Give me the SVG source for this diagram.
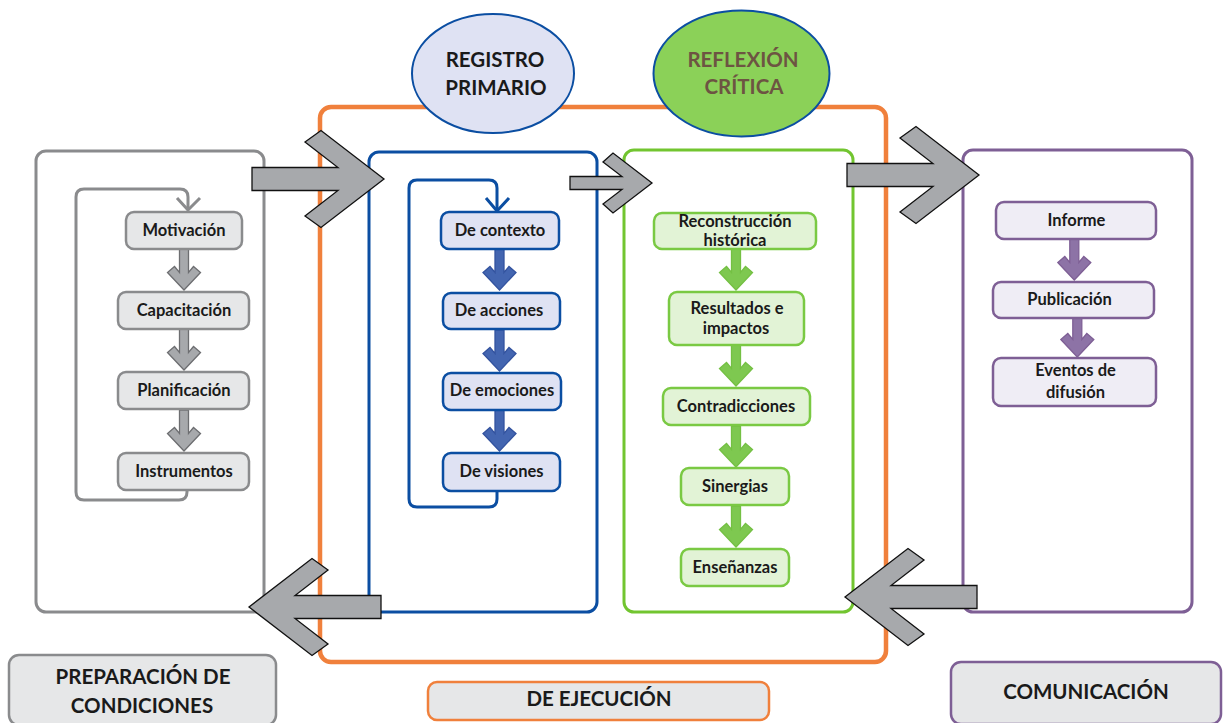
<svg xmlns="http://www.w3.org/2000/svg" width="1223" height="723" viewBox="0 0 1223 723">
<defs>
<style>
.t{font-family:Lato,"Open Sans","Liberation Sans",sans-serif;font-weight:700;font-size:16.5px;fill:#1a1a1a;text-anchor:middle}
.big{font-size:20.5px}
.panel{fill:none;stroke-width:3}
.gbox{fill:#e6e7e8;stroke:#8a8b8d;stroke-width:2.5}
.bbox{fill:#dfe2f3;stroke:#0b4ea2;stroke-width:2.5}
.grbox{fill:#e2f3d6;stroke:#7ac943;stroke-width:2.5}
.pbox{fill:#efedf5;stroke:#7e5f95;stroke-width:2.5}
.bigarrow{fill:#a7a9ac;stroke:#111;stroke-width:1.3;stroke-linejoin:miter}
.loop{fill:none;stroke-width:3;stroke-linejoin:round}
</style>
<path id="sa" d="M -4.5,-41 H 4.5 V -17.5 L 9.5,-23.5 L 16.5,-17.5 L 0,0 L -16.5,-17.5 L -9.5,-23.5 L -4.5,-17.5 Z"/>
<path id="ba" d="M -132,-11.5 H -46 L -79,-37 L -63,-48.5 L 0,0 L -63,48.5 L -79,37 L -46,11.5 H -132 Z"/>
</defs>
<rect width="1223" height="723" fill="#fff"/>

<g id="fase-ejecucion">
<rect x="320" y="107" width="566" height="555" rx="11" fill="none" stroke="#f0803c" stroke-width="4.5"/>
</g>
<g id="panel-preparacion"><rect class="panel" x="36" y="151" width="228" height="461" rx="10" stroke="#8a8b8d"/></g>
<g id="panel-registro"><rect class="panel" x="369" y="152" width="228" height="460" rx="10" stroke="#0b4ea2"/></g>
<g id="panel-reflexion"><rect class="panel" x="624" y="150" width="229" height="462" rx="10" stroke="#72c530"/></g>
<g id="panel-comunicacion"><rect class="panel" x="963" y="150" width="229" height="462" rx="10" stroke="#7e5f95"/></g>

<g id="connectors">
<path class="loop" stroke="#8a8b8d" d="M 187,490 V 492 Q 187,500 179,500 H 84 Q 76,500 76,492 V 197 Q 76,189 84,189 H 180 Q 188,189 188,197 V 210"/>
<path class="loop" stroke="#8a8b8d" d="M 177,198 L 188,210 L 200,198"/>
<path class="loop" stroke="#0b4ea2" d="M 497,491 V 499 Q 497,507 489,507 H 417 Q 409,507 409,499 V 188 Q 409,180 417,180 H 489 Q 497,180 497,188 V 210"/>
<path class="loop" stroke="#0b4ea2" d="M 486,198 L 497,211 L 509,198"/>
<g fill="#a7a9ac" stroke="#6d6e71" stroke-width="1.3">
<use href="#sa" transform="translate(184,290)"/>
<use href="#sa" transform="translate(184,370)"/>
<use href="#sa" transform="translate(184,451)"/>
</g>
<g fill="#4365b0" stroke="#33539f" stroke-width="1.3">
<use href="#sa" transform="translate(499.5,290)"/>
<use href="#sa" transform="translate(499.5,371)"/>
<use href="#sa" transform="translate(499.5,451)"/>
</g>
<g fill="#7ec850" stroke="#74c043" stroke-width="1.3">
<use href="#sa" transform="translate(736,290)"/>
<use href="#sa" transform="translate(736,386)"/>
<use href="#sa" transform="translate(736,467)"/>
<use href="#sa" transform="translate(736,547)"/>
</g>
<g fill="#8d73a6" stroke="#7e5f95" stroke-width="1.3">
<use href="#sa" transform="translate(1074.3,280)"/>
<use href="#sa" transform="translate(1077.3,357)"/>
</g>
</g>

<g id="n-motivacion"><rect class="gbox" x="126" y="212" width="116" height="37" rx="8"/><text class="t" x="184" y="236">Motivación</text></g>
<g id="n-capacitacion"><rect class="gbox" x="118" y="292" width="131" height="37" rx="8"/><text class="t" x="184" y="316">Capacitación</text></g>
<g id="n-planificacion"><rect class="gbox" x="118" y="372" width="131" height="37" rx="8"/><text class="t" x="184" y="396">Planificación</text></g>
<g id="n-instrumentos"><rect class="gbox" x="118" y="453" width="131" height="37" rx="8"/><text class="t" x="184" y="477">Instrumentos</text></g>

<g id="n-contexto"><rect class="bbox" x="441" y="212" width="118" height="37" rx="8"/><text class="t" x="500" y="236">De contexto</text></g>
<g id="n-acciones"><rect class="bbox" x="443" y="293" width="117" height="36" rx="8"/><text class="t" x="499" y="316">De acciones</text></g>
<g id="n-emociones"><rect class="bbox" x="443" y="373" width="118" height="37" rx="8"/><text class="t" x="502" y="396">De emociones</text></g>
<g id="n-visiones"><rect class="bbox" x="443" y="453" width="117" height="38" rx="8"/><text class="t" x="501.5" y="477">De visiones</text></g>

<g id="n-reconstruccion"><rect class="grbox" x="654" y="213" width="162" height="36" rx="8"/><text class="t" x="735" y="227">Reconstrucción</text><text class="t" x="735" y="246">histórica</text></g>
<g id="n-resultados"><rect class="grbox" x="669" y="292" width="135" height="53" rx="8"/><text class="t" x="737" y="314">Resultados e</text><text class="t" x="736" y="334">impactos</text></g>
<g id="n-contradicciones"><rect class="grbox" x="663" y="388" width="147" height="37" rx="8"/><text class="t" x="736" y="412">Contradicciones</text></g>
<g id="n-sinergias"><rect class="grbox" x="681" y="468" width="108" height="37" rx="8"/><text class="t" x="735" y="492">Sinergias</text></g>
<g id="n-ensenanzas"><rect class="grbox" x="681" y="549" width="108" height="37" rx="8"/><text class="t" x="735" y="573">Enseñanzas</text></g>

<g id="n-informe"><rect class="pbox" x="996" y="202" width="160" height="37" rx="8"/><text class="t" x="1076.5" y="226">Informe</text></g>
<g id="n-publicacion"><rect class="pbox" x="993" y="282" width="161" height="36" rx="8"/><text class="t" x="1069.5" y="305">Publicación</text></g>
<g id="n-eventos"><rect class="pbox" x="993" y="358" width="163" height="48" rx="8"/><text class="t" x="1075.5" y="376">Eventos de</text><text class="t" x="1075.5" y="398">difusión</text></g>

<g id="n-registro-primario"><ellipse cx="493" cy="73.5" rx="81" ry="59.5" fill="#dfe2f3" stroke="#0b4ea2" stroke-width="2"/><text class="t big" x="495" y="67">REGISTRO</text><text class="t big" x="496" y="95">PRIMARIO</text></g>
<g id="n-reflexion-critica"><ellipse cx="741.5" cy="73.5" rx="88" ry="63" fill="#8bd158" stroke="#0b4ea2" stroke-width="2"/><text class="t big" x="743" y="67" style="fill:#6d5442">REFLEXIÓN</text><text class="t big" x="744" y="94" style="fill:#6d5442">CRÍTICA</text></g>

<g id="phase-arrows" class="bigarrow">
<use href="#ba" transform="translate(384,179)"/>
<path d="M -82,-6.5 H -30 L -49,-21 L -39,-30 L 0,0 L -39,30 L -49,21 L -30,6.5 H -82 Z" transform="translate(652,183)"/>
<use href="#ba" transform="translate(979,175)"/>
<use href="#ba" transform="translate(845,597) scale(-1,1)"/>
<use href="#ba" transform="translate(249,607) scale(-1,1)"/>
</g>

<g id="l-preparacion"><rect x="9" y="655" width="267" height="70" rx="10" fill="#e6e7e8" stroke="#8a8b8d" stroke-width="2.5"/><text class="t big" x="143" y="684">PREPARACIÓN DE</text><text class="t big" x="142" y="713">CONDICIONES</text></g>
<g id="l-ejecucion"><rect x="428" y="682" width="341" height="38" rx="9" fill="#e6e7e8" stroke="#f0803c" stroke-width="2.5"/><text class="t big" x="599" y="706">DE EJECUCIÓN</text></g>
<g id="l-comunicacion"><rect x="951" y="662" width="270" height="62" rx="10" fill="#e6e7e8" stroke="#7e5f95" stroke-width="2.5"/><text class="t big" x="1086" y="699">COMUNICACIÓN</text></g>
</svg>
